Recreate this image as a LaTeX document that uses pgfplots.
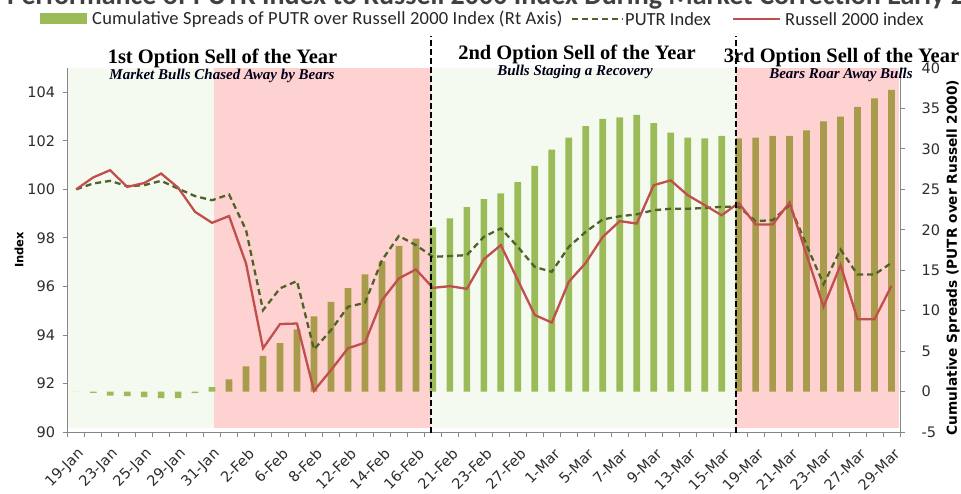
\documentclass[border=0pt]{standalone}
\usepackage{pgfplots}
\pgfplotsset{compat=1.18}
\usepackage{fontspec}
\setmainfont{Carlito}
\newfontfamily\dejavu{DejaVu Sans}
\newfontfamily\libserif{Liberation Serif}
\newfontfamily\carlitowide[LetterSpace=1.2]{Carlito}
\definecolor{bargreen}{RGB}{155,187,89}
\definecolor{barolive}{RGB}{168,155,75}
\definecolor{bggreen}{RGB}{245,250,240}
\definecolor{bgpink}{RGB}{255,210,210}
\definecolor{redline}{RGB}{192,80,77}
\definecolor{putr}{RGB}{79,98,40}
\definecolor{axgray}{RGB}{134,134,134}
\definecolor{txt}{RGB}{45,45,45}
\begin{document}
\begin{tikzpicture}[x=1pt,y=1pt]
\useasboundingbox (-67.7,-61) rectangle (893.3,432);
% chart title (clipped at top edge)
\node[anchor=base west, inner sep=0pt, text=black!75, font=\bfseries\fontsize{28}{28}\selectfont] at (-60.7,427) {Performance of PUTR Index to Russell 2000 Index During Market Correction Early 2012};
% right axis with bars
\begin{axis}[
  at={(0,0)}, anchor=south west,
  width=832.3pt, height=364pt, scale only axis,
  xmin=-0.5, xmax=48.5, ymin=-5, ymax=40,
  axis y line*=right, axis x line*=bottom,
  axis line style={draw=axgray, line width=0.8pt},
  tick style={draw=axgray, line width=0.8pt},
  tick align=outside, major tick length=5pt,
  xtick={-0.5,0.5,...,48.5}, x tick label as interval,
  xticklabels={19-Jan,{},23-Jan,{},25-Jan,{},29-Jan,{},31-Jan,{},2-Feb,{},6-Feb,{},8-Feb,{},12-Feb,{},14-Feb,{},16-Feb,{},21-Feb,{},23-Feb,{},27-Feb,{},1-Mar,{},5-Mar,{},7-Mar,{},9-Mar,{},13-Mar,{},15-Mar,{},19-Mar,{},21-Mar,{},23-Mar,{},27-Mar,{},29-Mar},
  xticklabel style={rotate=45, anchor=east, text=txt, font=\dejavu\fontsize{14.5}{14.5}\selectfont, xshift=-3pt, yshift=-14pt},
  ytick={-5,0,...,40},
  yticklabel style={anchor=west, text=txt, font=\dejavu\fontsize{14.5}{14.5}\selectfont, xshift=13pt},
  /pgf/number format/assume math mode=true,
  clip=false,
]
\fill[bggreen] (axis cs:-0.46,-4.45) rectangle (axis cs:8.13,40);
\fill[bgpink] (axis cs:8.13,-4.45) rectangle (axis cs:20.88,40);
\fill[bggreen] (axis cs:20.88,-4.45) rectangle (axis cs:38.83,40);
\fill[bgpink] (axis cs:38.83,-4.45) rectangle (axis cs:48.45,40);
\addplot[ybar, bar width=6.7pt, bar shift=0pt, fill=bargreen, draw=none] coordinates {
(0,0) (1,-0.15) (2,-0.5) (3,-0.55) (4,-0.7) (5,-0.8) (6,-0.8) (7,-0.2) (8,0.55)
(21,20.3) (22,21.4) (23,22.8) (24,23.8) (25,24.5) (26,25.9) (27,27.9) (28,29.9)
(29,31.4) (30,32.8) (31,33.7) (32,33.9) (33,34.2) (34,33.2) (35,32.0) (36,31.4)
(37,31.3) (38,31.6)};
\addplot[ybar, bar width=6.7pt, bar shift=0pt, fill=barolive, draw=none] coordinates {
(9,1.5) (10,3.1) (11,4.4) (12,6.0) (13,7.7) (14,9.3) (15,11.1) (16,12.8) (17,14.5)
(18,16.1) (19,18.0) (20,18.9)
(39,31.3) (40,31.4) (41,31.6) (42,31.6) (43,32.3) (44,33.4) (45,34.0) (46,35.2)
(47,36.25) (48,37.3)};
\end{axis}
% section titles
\node[anchor=base, inner sep=0pt, font=\libserif\bfseries\fontsize{20.5}{20.5}\selectfont] at (154.8,368.7) {1st Option Sell of the Year};
\node[anchor=base, inner sep=0pt, font=\libserif\bfseries\itshape\fontsize{15}{15}\selectfont, text=black!90!blue] at (154.3,352.7) {Market Bulls Chased Away by Bears};
\node[anchor=base, inner sep=0pt, font=\libserif\bfseries\fontsize{20.5}{20.5}\selectfont] at (509.3,372.7) {2nd Option Sell of the Year};
\node[anchor=base, inner sep=0pt, font=\libserif\bfseries\itshape\fontsize{15}{15}\selectfont, text=black!90!blue] at (507.3,356.3) {Bulls Staging a Recovery};
\node[anchor=base, inner sep=0pt, font=\libserif\bfseries\fontsize{20.5}{20.5}\selectfont] at (773.8,369.7) {3rd Option Sell of the Year};
\node[anchor=base, inner sep=0pt, font=\libserif\bfseries\itshape\fontsize{15}{15}\selectfont, text=black!90!blue] at (773.3,353.7) {Bears Roar Away Bulls};
% left axis with lines
\begin{axis}[
  at={(0,0)}, anchor=south west,
  width=832.3pt, height=364pt, scale only axis,
  xmin=-0.5, xmax=48.5, ymin=90, ymax=105,
  axis y line*=left, axis x line=none,
  axis line style={draw=axgray, line width=0.8pt},
  tick style={draw=axgray, line width=0.8pt},
  tick align=outside, major tick length=5pt,
  ytick={90,92,...,104},
  yticklabel style={anchor=east, text=txt, font=\dejavu\fontsize{14.5}{14.5}\selectfont, xshift=-4pt},
  /pgf/number format/assume math mode=true,
  clip=false,
]
\addplot[putr, line width=2.3pt, dash pattern=on 6pt off 4pt] coordinates {
(0,100.0) (1,100.24) (2,100.35) (3,100.13) (4,100.17) (5,100.35) (6,100.03) (7,99.72)
(8,99.55) (9,99.79) (10,98.32) (11,95.02) (12,95.92) (13,96.22) (14,93.4) (15,94.2)
(16,95.16) (17,95.32) (18,97.08) (19,98.08) (20,97.7) (21,97.22) (22,97.25) (23,97.29)
(24,98.04) (25,98.39) (26,97.63) (27,96.8) (28,96.6) (29,97.63) (30,98.25) (31,98.76)
(32,98.89) (33,98.97) (34,99.14) (35,99.2) (36,99.2) (37,99.23) (38,99.28) (39,99.28)
(40,98.69) (41,98.73) (42,99.35) (43,97.7) (44,96.09) (45,97.52) (46,96.49) (47,96.49)
(48,96.97)};
\addplot[redline, line width=2.3pt] coordinates {
(0,100.0) (1,100.49) (2,100.79) (3,100.1) (4,100.26) (5,100.65) (6,100.07) (7,99.07)
(8,98.62) (9,98.9) (10,96.94) (11,93.45) (12,94.45) (13,94.47) (14,91.7) (15,92.55)
(16,93.45) (17,93.68) (18,95.43) (19,96.33) (20,96.7) (21,95.94) (22,96.01) (23,95.9)
(24,97.12) (25,97.7) (26,96.26) (27,94.82) (28,94.51) (29,96.19) (30,96.97) (31,98.04)
(32,98.69) (33,98.59) (34,100.17) (35,100.37) (36,99.76) (37,99.35) (38,98.93) (39,99.44)
(40,98.55) (41,98.55) (42,99.46) (43,97.3) (44,95.16) (45,96.88) (46,94.65) (47,94.65)
(48,96.02)};
\draw[black, line width=2.3pt, dash pattern=on 6pt off 3pt] (axis cs:20.88,89.95) -- (axis cs:20.88,106.3);
\draw[black, line width=2.3pt, dash pattern=on 6pt off 3pt] (axis cs:38.83,89.95) -- (axis cs:38.83,106.3);
\end{axis}
% axis titles
\node[rotate=90, inner sep=0pt, font=\dejavu\bfseries\fontsize{11.5}{11.5}\selectfont] at (-48.7,182) {Index};
\node[rotate=90, inner sep=0pt, font=\dejavu\bfseries\fontsize{13.7}{13.7}\selectfont] at (885.3,174.5) {Cumulative Spreads (PUTR over Russell 2000)};
% legend
\fill[bargreen] (-27.7,408) rectangle (19.3,419);
\node[anchor=west, inner sep=0pt, text=black!85, font=\carlitowide\fontsize{18.5}{18.5}\selectfont] at (24.3,413) {Cumulative Spreads of PUTR over Russell 2000 Index (Rt Axis)};
\draw[putr, line width=2.3pt, dash pattern=on 6pt off 4pt] (504.3,413) -- (555.3,413);
\node[anchor=west, inner sep=0pt, text=black!85, font=\fontsize{18.5}{18.5}\selectfont] at (557.3,413) {PUTR Index};
\draw[redline, line width=2.3pt] (665.3,413) -- (712.3,413);
\node[anchor=west, inner sep=0pt, text=black!85, font=\fontsize{18.5}{18.5}\selectfont] at (717.3,413) {Russell 2000 index};
\end{tikzpicture}
\end{document}
